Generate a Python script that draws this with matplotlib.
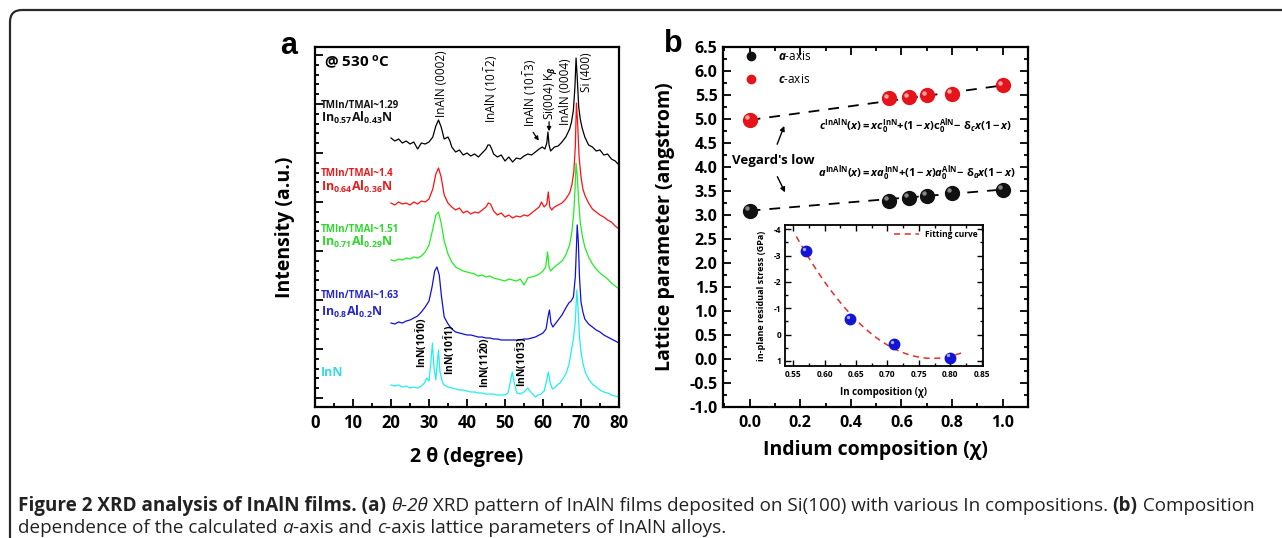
import numpy as np
import matplotlib
matplotlib.use("Agg")
import matplotlib.pyplot as plt
from matplotlib.patches import FancyBboxPatch
from matplotlib.transforms import offset_copy
from matplotlib.ticker import MultipleLocator, FixedLocator
from matplotlib.lines import Line2D

plt.rcParams['font.family'] = ['Open Sans', 'DejaVu Sans']
plt.rcParams['mathtext.fontset'] = 'custom'
plt.rcParams['mathtext.rm'] = 'Open Sans:bold'
plt.rcParams['mathtext.it'] = 'Open Sans:italic:bold'
plt.rcParams['mathtext.bf'] = 'Open Sans:bold'

# ---- panel a: XRD patterns (intensity in arbitrary offset units) ----
tt_black = [20, 21, 22, 23, 24, 25, 26, 27, 28, 29, 30, 31, 31.8, 32.5, 33.2, 34, 35, 35.5, 36, 37, 38, 39,
            40, 41, 42, 43, 44, 45, 45.5, 46, 46.5, 47, 48, 49, 50, 51, 52, 53, 54, 55, 56, 57, 58, 59,
            59.8, 60.5, 61, 61.3, 61.6, 62, 63, 64, 65, 66, 67, 67.5, 68, 68.4, 68.7, 69.0, 69.4, 69.8,
            70.3, 71, 72, 73, 74, 75, 76, 77, 78, 79, 80]
int_black = [269, 266, 268, 264, 266, 263, 265, 258, 264, 263, 265, 270, 281, 287, 280, 268, 270, 266, 260,
             255, 257, 252, 254, 251, 253, 250, 254, 258, 262, 262, 258, 253, 250, 252, 246, 250, 245, 249,
             248, 251, 253, 252, 255, 258, 260, 258, 264, 275, 262, 256, 260, 261, 265, 270, 278, 285, 297,
             320, 349, 330, 300, 288, 279, 270, 262, 260, 256, 257, 252, 253, 248, 246, 242]

tt_red = [20, 21, 22, 23, 24, 25, 26, 27, 28, 29, 30, 31, 31.8, 32.5, 33.2, 34, 35, 36, 37, 38, 39, 40, 41,
          42, 43, 44, 45, 45.6, 46.2, 47, 48, 49, 50, 51, 52, 53, 54, 55, 56, 57, 58, 59, 59.6, 60.3, 61,
          61.4, 61.8, 62.3, 63, 64, 65, 66, 67, 67.6, 68.1, 68.5, 68.8, 69.1, 69.5, 70, 70.5, 71, 72, 73,
          74, 75, 76, 77, 78, 79, 80]
int_red = [204, 202, 205, 203, 204, 202, 205, 203, 206, 205, 208, 218, 233, 239, 230, 212, 204, 200, 197,
           199, 194, 196, 193, 195, 194, 197, 200, 204, 203, 196, 192, 194, 190, 192, 189, 191, 190, 192,
           191, 194, 197, 200, 205, 200, 203, 215, 200, 197, 200, 202, 204, 208, 214, 222, 235, 260, 304,
           285, 250, 230, 218, 212, 204, 198, 195, 192, 190, 187, 185, 181, 178]

tt_green = [20, 21, 22, 23, 24, 25, 26, 27, 28, 29, 30, 31, 31.8, 32.5, 33.2, 34, 35, 36, 37, 38, 39, 40,
            41, 42, 43, 44, 45, 46, 47, 48, 49, 50, 51, 52, 53, 54, 55, 56, 57, 58, 59, 60, 60.7, 61.2,
            61.6, 62, 63, 64, 65, 66, 67, 67.6, 68.1, 68.4, 68.7, 69.0, 69.4, 69.8, 70.3, 71, 72, 73, 74,
            75, 76, 77, 78, 79, 80]
int_green = [147, 146, 148, 147, 149, 148, 150, 149, 151, 155, 162, 178, 192, 195, 184, 166, 153, 145, 140,
             138, 136, 135, 134, 133, 131, 132, 130, 131, 129, 128, 127, 126, 128, 127, 126, 128, 122, 129,
             130, 131, 133, 136, 140, 155, 140, 136, 140, 143, 146, 152, 162, 175, 195, 215, 244, 232, 205,
             185, 172, 160, 150, 143, 138, 134, 131, 128, 124, 121, 118]

tt_blue = [20, 21, 22, 23, 24, 25, 26, 27, 28, 29, 30, 30.8, 31.5, 32.1, 32.7, 33.3, 34, 35, 36, 37, 38, 39,
           40, 41, 42, 43, 44, 45, 46, 47, 48, 49, 50, 51, 52, 53, 54, 55, 56, 57, 58, 59, 60, 60.8, 61.4,
           61.7, 62.1, 62.6, 63, 64, 65, 66, 66.8, 67.4, 68.0, 68.5, 68.8, 69.0, 69.3, 69.6, 70, 70.5, 71,
           72, 73, 74, 75, 76, 77, 78, 79, 80]
int_blue = [84, 83, 85, 84, 86, 87, 89, 91, 95, 100, 106, 120, 136, 140, 132, 110, 90, 83, 78, 75, 74, 73,
            72, 72, 71, 70, 70, 69, 69, 68, 68, 67, 67, 67, 67, 67, 67, 68, 68, 69, 70, 72, 74, 78, 92, 97,
            84, 80, 82, 87, 92, 99, 104, 106, 110, 130, 160, 182, 165, 130, 105, 95, 88, 83, 80, 77, 75,
            72, 70, 68, 66, 64]

tt_cyan = [20, 21, 22, 23, 24, 25, 26, 27, 28, 28.8, 29.4, 30.0, 30.5, 30.9, 31.3, 31.8, 32.2, 32.5, 32.9,
           33.5, 34, 35, 36, 37, 38, 39, 40, 41, 42, 43, 44, 45, 46, 47, 48, 49, 50, 50.8, 51.4, 51.9, 52.4,
           53.1, 54, 55, 56, 56.8, 57.5, 58, 58.8, 59.5, 60.3, 61, 61.4, 61.9, 62.5, 63, 64, 64.5, 65, 66,
           66.8, 67.5, 68, 68.5, 68.9, 69.2, 69.6, 70, 70.5, 71.1, 72, 73, 74, 75, 76, 77, 78, 79, 80]
int_cyan = [22, 21, 22, 20, 21, 19, 20, 19, 21, 24, 29, 26, 45, 64, 40, 27, 45, 57, 35, 25, 22, 20, 19, 18,
            17, 17, 16, 15, 15, 14, 14, 13, 13, 13, 12, 12, 12, 14, 25, 35, 25, 14, 13, 15, 19, 15, 12, 10,
            12, 13, 16, 27, 35, 24, 18, 19, 23, 24, 27, 33, 42, 57, 68, 85, 117, 100, 70, 55, 44, 35, 28,
            23, 20, 17, 15, 14, 12, 11, 10]

ratio_labels = ['TMIn/TMAl~1.29', 'TMIn/TMAl~1.4', 'TMIn/TMAl~1.51', 'TMIn/TMAl~1.63', '']
film_labels = [r'In$_{0.57}$Al$_{0.43}$N', r'In$_{0.64}$Al$_{0.36}$N', r'In$_{0.71}$Al$_{0.29}$N',
               r'In$_{0.8}$Al$_{0.2}$N', 'InN']
line_colors = ['#000000', '#ff1010', '#22ee22', '#1010d8', '#22eef0']
text_colors = ['#111111', '#e81c1c', '#2bd82b', '#2626cc', '#3ad8ea']

# ---- panel b: lattice parameters ----
x_comp = [0.0, 0.55, 0.63, 0.70, 0.80, 1.0]
a_axis = [3.09, 3.29, 3.36, 3.40, 3.46, 3.53]
c_axis = [4.98, 5.43, 5.45, 5.49, 5.52, 5.70]

# inset: residual stress
x_stress = [0.57, 0.64, 0.71, 0.80]
stress = [-3.18, -0.60, 0.34, 0.87]

W, H = 1282, 538
fig = plt.figure(figsize=(W / 100, H / 100), dpi=100)

# background layer in pixel coords: frame + caption
bg = fig.add_axes([0, 0, 1, 1], zorder=-5)
bg.set_xlim(0, W)
bg.set_ylim(H, 0)
bg.axis('off')
bg.add_patch(FancyBboxPatch((10, 10), 1400, 700, boxstyle='round,pad=0,rounding_size=12',
                            fc='none', ec='#2a2a2a', lw=1.6))

# ---------------- panel a ----------------
axa = fig.add_axes([315 / W, 1 - 407 / H, 304 / W, 360 / H])
series = [(tt_black, int_black), (tt_red, int_red), (tt_green, int_green),
          (tt_blue, int_blue), (tt_cyan, int_cyan)]
for (tt, yy), col in zip(series, line_colors):
    axa.plot(tt, yy, color=col, lw=0.9)
axa.set_xlim(0, 80)
axa.set_ylim(0, 360)
axa.xaxis.set_major_locator(MultipleLocator(10))
axa.xaxis.set_minor_locator(MultipleLocator(5))
axa.yaxis.set_major_locator(FixedLocator(np.arange(9, 360, 49)))
axa.yaxis.set_minor_locator(FixedLocator(np.arange(-0.8, 360, 9.8)))
axa.tick_params(which='both', direction='in', width=1.3, labelleft=False, top=False, right=False)
axa.tick_params(which='major', length=6, labelsize=12, pad=5)
axa.tick_params(which='minor', length=3)
for lab in axa.get_xticklabels():
    lab.set_fontweight('bold')
for sp in axa.spines.values():
    sp.set_linewidth(1.6)
axa.set_xlabel(u'2 \u03b8 (degree)', fontsize=14, fontweight='bold')
axa.xaxis.set_label_coords(0.5, -0.139)
axa.xaxis.label.set_va('center')
axa.set_ylabel('Intensity (a.u.)', fontsize=14, fontweight='bold')
axa.yaxis.set_label_coords(-0.099, 0.5)
axa.yaxis.label.set_va('center')

axa.text(2.3, 345, r'@ 530 $^{\mathrm{o}}$C', fontsize=11, fontweight='bold', va='center')
label_y = [(301, 289), (233, 220), (178, 165), (112, 95), (None, 34)]
for (ry, fy), rl, fl, col in zip(label_y, ratio_labels, film_labels, text_colors):
    if ry is not None:
        axa.text(1.5, ry, rl, fontsize=7, fontweight='bold', color=col, va='center')
    axa.text(1.5, fy, fl, fontsize=9, fontweight='bold', color=col, va='center')

peak_kw = dict(rotation=90, fontsize=8.5, ha='center', va='bottom', rotation_mode='default')
axa.text(33.3, 290, 'InAlN (0002)', **peak_kw)
axa.text(46.5, 284, r'InAlN (10$\mathregular{\bar{1}}$2)', **peak_kw)
axa.text(56.6, 280, r'InAlN (10$\mathregular{\bar{1}}$3)', **peak_kw)
axa.text(61.9, 287, r'Si(004) K$_{\beta}$', **peak_kw)
axa.text(65.8, 282, 'InAlN (0004)', **peak_kw)
axa.text(71.5, 315, 'Si (400)', **peak_kw)
axa.annotate('', xy=(61.6, 273), xytext=(61.6, 288),
             arrowprops=dict(arrowstyle='-|>', color='k', lw=0.9, mutation_scale=6))
axa.annotate('', xy=(59.3, 264), xytext=(57.0, 277),
             arrowprops=dict(arrowstyle='-|>', color='k', lw=0.9, mutation_scale=6))

inn_kw = dict(rotation=90, fontsize=7.5, ha='center', va='bottom', fontweight='bold')
axa.text(28.1, 39, r'InN(10$\mathregular{\bar{1}}$0)', **inn_kw)
axa.text(35.3, 32, r'InN(10$\mathregular{\bar{1}}$1)', **inn_kw)
axa.text(44.7, 19, r'InN(11$\mathregular{\bar{2}}$0)', **inn_kw)
axa.text(54.4, 20, r'InN(10$\mathregular{\bar{1}}$3)', **inn_kw)

# ---------------- panel b ----------------
axb = fig.add_axes([723 / W, 1 - 407 / H, 305 / W, 360 / H])
axb.set_xlim(-0.105, 1.1)
axb.set_ylim(-1.0, 6.5)


def spheres(ax, x, y, color, hl, size):
    ax.plot(x, y, 'o', ls='none', ms=size, mfc=color, mec=color, zorder=5)
    tr = offset_copy(ax.transData, fig=fig, x=-size * 0.2, y=size * 0.2, units='points')
    ax.plot(x, y, 'o', ls='none', ms=size * 0.32, mfc=hl, mec='none', alpha=0.85,
            transform=tr, zorder=6)


axb.plot([x_comp[0], x_comp[-1]], [c_axis[0], c_axis[-1]], color='k', lw=1.3, dashes=(6, 5), zorder=3)
axb.plot([x_comp[0], x_comp[-1]], [a_axis[0], a_axis[-1]], color='k', lw=1.3, dashes=(6, 5), zorder=3)
spheres(axb, x_comp, a_axis, '#111111', '#9a9a9a', 10)
spheres(axb, x_comp, c_axis, '#e5141a', '#ffc0c0', 10)

handles = [Line2D([], [], marker='o', ls='none', ms=6, mfc='#111111', mec='#111111'),
           Line2D([], [], marker='o', ls='none', ms=6, mfc='#e5141a', mec='#e5141a')]
axb.legend(handles, [r'$a$-axis', r'$c$-axis'], loc='upper left', bbox_to_anchor=(0.03, 1.01),
           frameon=False, prop=dict(size=8.5), handletextpad=1.3, labelspacing=0.8, borderaxespad=0.2)

axb.xaxis.set_major_locator(MultipleLocator(0.2))
axb.xaxis.set_minor_locator(MultipleLocator(0.1))
axb.yaxis.set_major_locator(MultipleLocator(0.5))
axb.yaxis.set_minor_locator(MultipleLocator(0.25))
axb.tick_params(which='both', direction='in', width=1.3, top=True, right=True)
axb.tick_params(which='major', length=6, labelsize=11.5)
axb.tick_params(axis='x', which='major', pad=6)
axb.tick_params(axis='y', which='major', pad=4)
axb.tick_params(which='minor', length=3)
axb.xaxis.set_major_formatter(matplotlib.ticker.FormatStrFormatter('%.1f'))
axb.yaxis.set_major_formatter(matplotlib.ticker.FormatStrFormatter('%.1f'))
for lab in axb.get_xticklabels() + axb.get_yticklabels():
    lab.set_fontweight('bold')
for sp in axb.spines.values():
    sp.set_linewidth(1.6)
axb.set_xlabel(u'Indium composition (\u03c7)', fontsize=14, fontweight='bold')
axb.xaxis.set_label_coords(0.5, -0.119)
axb.xaxis.label.set_va('center')
axb.set_ylabel('Lattice parameter (angstrom)', fontsize=14, fontweight='bold')
axb.yaxis.set_label_coords(-0.19, 0.5)
axb.yaxis.label.set_va('center')

axb.text(0.655, 4.85,
         r'$c^{\mathrm{InAlN}}(x)\mathrm{=}xc_{0}^{\mathrm{InN}}\mathrm{+(1-}x\mathrm{)c}_{0}^{\mathrm{AlN}}'
         r'\mathrm{-}\ \mathrm{\delta}_{c}x\mathrm{(1-}x\mathrm{)}$',
         fontsize=8, ha='center', va='center')
axb.text(0.662, 3.87,
         r'$a^{\mathrm{InAlN}}(x)\mathrm{=}xa_{0}^{\mathrm{InN}}\mathrm{+(1-}x\mathrm{)}a_{0}^{\mathrm{AlN}}'
         r'\mathrm{-}\ \mathrm{\delta}_{a}x\mathrm{(1-}x\mathrm{)}$',
         fontsize=8, ha='center', va='center')
axb.text(0.092, 4.14, "Vegard's low", fontsize=9.5, fontweight='bold', ha='center', va='center')
axb.annotate('', xy=(0.141, 4.91), xytext=(0.105, 4.42),
             arrowprops=dict(arrowstyle='-|>', color='k', lw=1.0, mutation_scale=7))
axb.annotate('', xy=(0.145, 3.42), xytext=(0.105, 3.85),
             arrowprops=dict(arrowstyle='-|>', color='k', lw=1.0, mutation_scale=7))

# inset
axi = fig.add_axes([785 / W, 1 - 366 / H, 198 / W, 141 / H], zorder=5)
axi.patch.set_alpha(0)
xf = np.linspace(0.555, 0.82, 100)
coef = np.polyfit(x_stress, stress, 2)
axi.plot(xf, np.polyval(coef, xf), color='#e03030', lw=1.1, dashes=(4, 3), label='Fitting curve')
spheres(axi, x_stress, stress, '#1414d6', '#c0c8ff', 7.5)
axi.set_xlim(0.537, 0.852)
axi.set_ylim(1.19, -4.16)
axi.xaxis.set_major_locator(MultipleLocator(0.05))
axi.xaxis.set_minor_locator(MultipleLocator(0.025))
axi.yaxis.set_major_locator(MultipleLocator(1))
axi.yaxis.set_minor_locator(MultipleLocator(0.5))
axi.xaxis.set_major_formatter(matplotlib.ticker.FormatStrFormatter('%.2f'))
axi.yaxis.set_major_formatter(matplotlib.ticker.FuncFormatter(lambda v, p: '%d' % v))
axi.tick_params(which='both', direction='in', width=1.0, top=True, right=True)
axi.tick_params(which='major', length=4, labelsize=6)
axi.tick_params(axis='x', which='major', pad=3)
axi.tick_params(axis='y', which='major', pad=2.5)
axi.tick_params(which='minor', length=2)
for lab in axi.get_xticklabels() + axi.get_yticklabels():
    lab.set_fontweight('bold')
for sp in axi.spines.values():
    sp.set_linewidth(1.3)
axi.set_xlabel(u'In composition (\u03c7)', fontsize=7, fontweight='bold')
axi.xaxis.set_label_coords(0.5, -0.19)
axi.xaxis.label.set_va('center')
axi.set_ylabel('in-plane residual stress (GPa)', fontsize=6.5, fontweight='bold')
axi.yaxis.set_label_coords(-0.118, 0.5)
axi.yaxis.label.set_va('center')
axi.legend(loc='upper right', frameon=False, prop=dict(size=6, weight='bold'), handlelength=3,
           borderaxespad=0.2)

# panel letters
bg.text(289, 46, 'a', fontsize=22, fontweight='bold', family='Liberation Sans', ha='center', va='center')
bg.text(673, 44, 'b', fontsize=22, fontweight='bold', family='Liberation Sans', ha='center', va='center')

# caption
cap_font = 'Open Sans'
line1 = [('Figure 2 XRD analysis of InAlN films. (a) ', 'bold', 'normal'),
         (u'\u03b8-2\u03b8', 'normal', 'italic'),
         (' XRD pattern of InAlN films deposited on Si(100) with various In compositions. ', 'normal', 'normal'),
         ('(b)', 'bold', 'normal'),
         (' Composition', 'normal', 'normal')]
line2 = [('dependence of the calculated ', 'normal', 'normal'),
         ('a', 'normal', 'italic'),
         ('-axis and ', 'normal', 'normal'),
         ('c', 'normal', 'italic'),
         ('-axis lattice parameters of InAlN alloys.', 'normal', 'normal')]

renderer = fig.canvas.get_renderer()


def piece_width(txt, weight, style, size):
    t1 = bg.text(0, 0, 'x' + txt + 'x', fontsize=size, family=cap_font, weight=weight, style=style)
    t2 = bg.text(0, 0, 'xx', fontsize=size, family=cap_font, weight=weight, style=style)
    w = t1.get_window_extent(renderer).width - t2.get_window_extent(renderer).width
    t1.remove()
    t2.remove()
    return w


total = sum(piece_width(t, w, s, 10) for t, w, s in line1)
cap_size = 10 * 1237 / total


def draw_line(pieces, x0, y):
    x = x0
    for txt, weight, style in pieces:
        bg.text(x, y, txt, fontsize=cap_size, family=cap_font, weight=weight, style=style,
                va='center', ha='left', color='#222222')
        x += piece_width(txt, weight, style, cap_size)


draw_line(line1, 18, 506)
draw_line(line2, 18, 528)

fig.savefig('out.png', dpi=100)
